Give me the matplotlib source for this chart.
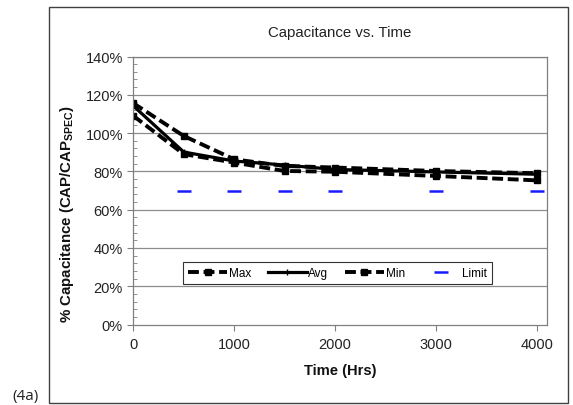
import matplotlib
matplotlib.use("Agg")
import matplotlib.pyplot as plt
from matplotlib.ticker import MultipleLocator, FuncFormatter
from matplotlib.patches import Rectangle

plt.rcParams['font.family'] = ['Liberation Sans', 'DejaVu Sans']
plt.rcParams['mathtext.fontset'] = 'custom'
plt.rcParams['mathtext.rm'] = 'Liberation Sans:bold'
plt.rcParams['mathtext.bf'] = 'Liberation Sans:bold'

hours = [0, 500, 1000, 1500, 2000, 3000, 4000]
max_vals = [115.6, 98.5, 86.3, 82.8, 82.0, 80.2, 79.0]
avg_vals = [114.2, 90.1, 85.4, 83.3, 81.0, 79.7, 78.5]
min_vals = [109.0, 89.0, 84.6, 80.2, 79.8, 77.6, 75.3]
limit_hours = [500, 1000, 1500, 2000, 3000, 4000]
limit_vals = [70, 70, 70, 70, 70, 70]
yticks = [0, 20, 40, 60, 80, 100, 120, 140]
xticks = [0, 1000, 2000, 3000, 4000]

W, H = 573, 406
fig = plt.figure(figsize=(W/100, H/100), dpi=100)
L, R, T, B = 133.3, 546.7, 57.5, 325.5
ax = fig.add_axes([L/W, 1-B/H, (R-L)/W, (B-T)/H])

fig.patches.append(Rectangle((49/W, 1-403.5/H), (568-49)/W, (403.5-8)/H,
                             transform=fig.transFigure, fill=False,
                             edgecolor='#404040', linewidth=1.0))

for y in yticks[1:]:
    ax.axhline(y, color='#8c8c8c', linewidth=0.9, zorder=0)

dash = (0, (2.8, 1.2))
ax.plot(hours, max_vals, color='black', linestyle=dash, linewidth=2.8,
        marker='s', markersize=5, label='Max')
ax.plot(hours, avg_vals, color='black', linestyle='-', linewidth=2.3,
        marker='+', markersize=4, label='Avg')
ax.plot(hours, min_vals, color='black', linestyle=dash, linewidth=2.8,
        marker='s', markersize=5, label='Min')
ax.plot(limit_hours, limit_vals, color='#1a1aff', linestyle='none',
        marker='_', markersize=9.5, markeredgewidth=1.8, label='Limit', clip_on=False)

ax.set_xlim(0, 4100)
ax.set_ylim(0, 140)
ax.set_xticks(xticks)
ax.set_yticks(yticks)
ax.yaxis.set_minor_locator(MultipleLocator(4))
ax.yaxis.set_major_formatter(FuncFormatter(lambda v, p: f"{int(v)}%"))
ax.tick_params(axis='both', which='major', labelsize=10.5, length=4, direction='out',
               color='#808080', labelcolor='#222222')
ax.tick_params(axis='x', which='major', pad=5)
ax.tick_params(axis='y', which='minor', length=3, direction='in', color='#808080')
for s in ax.spines.values():
    s.set_color('#808080')
    s.set_linewidth(0.9)

fig.text(340/W, 1-33/H, 'Capacitance vs. Time', fontsize=10.8, color='#222222',
         ha='center', va='center')
fig.text(340/W, 1-371/H, 'Time (Hrs)', fontsize=10.6, fontweight='bold',
         ha='center', va='center', color='#111111')
fig.text(67/W, 1-214/H, r'% Capacitance (CAP/CAP$_{\mathrm{SPEC}}$)', fontsize=10.8,
         fontweight='bold', rotation=90, ha='center', va='center', color='#111111')

leg = ax.legend(loc='center', bbox_to_anchor=(0.494, 0.192), ncol=4, fontsize=8.5,
                frameon=True, fancybox=False, edgecolor='#333333', framealpha=1,
                handlelength=3.3, handletextpad=0.15, columnspacing=1.4,
                borderpad=0.4)
leg.get_frame().set_linewidth(0.8)

fig.text(12/W, 1-404/H, '(4a)', fontsize=11, family=['Open Sans', 'DejaVu Sans'],
         color='#222222', va='bottom')

fig.savefig('out.png', dpi=100)
